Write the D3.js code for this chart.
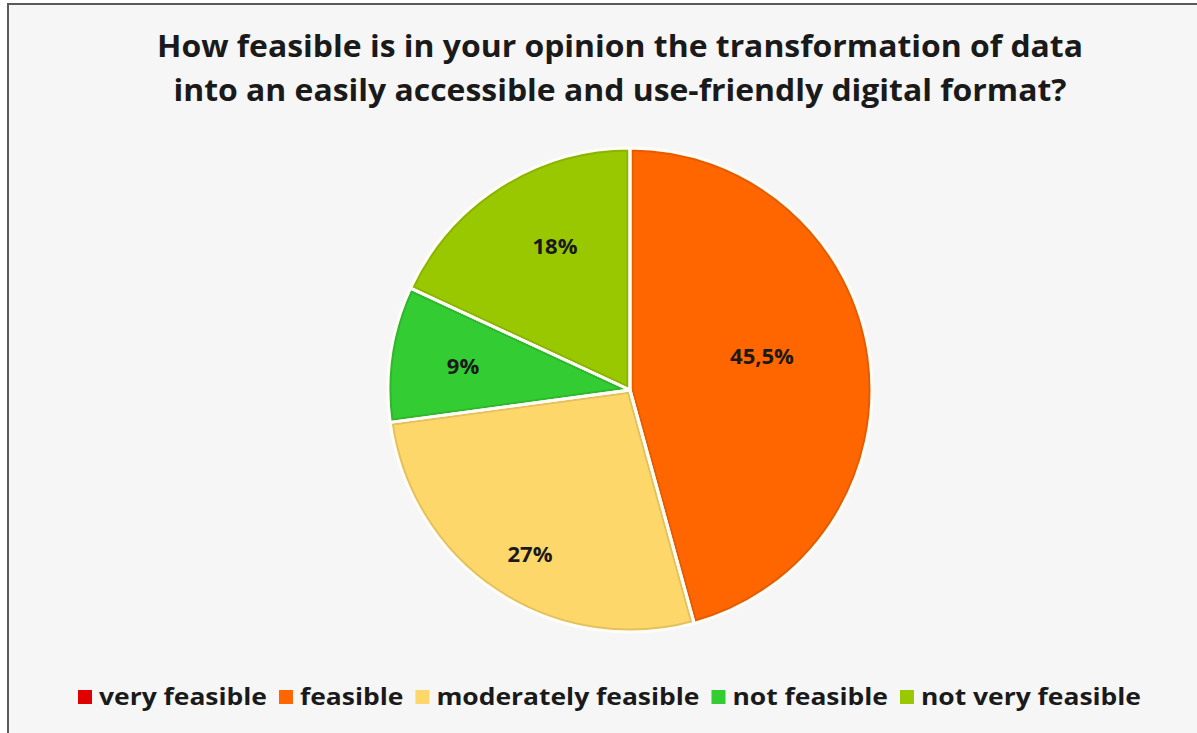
<!DOCTYPE html>
<html>
<head>
<meta charset="utf-8">
<script src="https://cdn.jsdelivr.net/npm/d3@7"></script>
<style>
  html, body { margin: 0; padding: 0; background: #ffffff; }
  svg { display: block; }
  text { font-family: "Open Sans", "Noto Sans", sans-serif; font-weight: 700; fill: #1a1a1a; }
</style>
</head>
<body>
<svg id="chart" width="1197" height="733"></svg>
<script>
// Survey answers and their shares (percent)
const categories = ["very feasible", "feasible", "moderately feasible", "not feasible", "not very feasible"];
const values = [0, 45.5, 27, 9, 18];
const valueLabels = ["0%", "45,5%", "27%", "9%", "18%"];
const colors = ["#e00000", "#ff6600", "#fdd769", "#33cc33", "#99c800"];
const titleLines = [
  "How feasible is in your opinion the transformation of data",
  "into an easily accessible and use-friendly digital format?"
];

const W = 1197, H = 733;
const svg = d3.select("#chart");

// Frame with light grey chart area
svg.append("rect")
  .attr("x", 8).attr("y", 4).attr("width", W + 10).attr("height", H + 10)
  .attr("fill", "#f6f6f6").attr("stroke", "#5a5a5a").attr("stroke-width", 2);

// Title
const titleWidths = [926, 893];
const titleBase = [57, 101];
titleLines.forEach((t, i) => {
  svg.append("text")
    .attr("x", 620).attr("y", titleBase[i])
    .attr("text-anchor", "middle")
    .attr("font-size", 30)
    .attr("textLength", titleWidths[i])
    .attr("lengthAdjust", "spacingAndGlyphs")
    .text(t);
});

// Pie
const cx = 630, cy = 390, r = 242;
const data = categories.map((c, i) => ({ name: c, value: values[i], label: valueLabels[i], color: colors[i] }));
const pie = d3.pie().sort(null).value(d => d.value);
const arcs = pie(data).filter(a => a.data.value > 0);
const arc = d3.arc().innerRadius(0).outerRadius(r);
const labelArc = d3.arc().innerRadius(r * 0.55).outerRadius(r * 0.55);

const g = svg.append("g").attr("transform", `translate(${cx},${cy})`);
const defs = svg.append("defs");

arcs.forEach((a, i) => {
  defs.append("clipPath").attr("id", "clip" + i)
    .append("path").attr("d", arc(a));
  // slice body
  g.append("path").attr("d", arc(a)).attr("fill", a.data.color);
  // darker inner rim on each slice
  g.append("path").attr("d", arc(a))
    .attr("fill", "none")
    .attr("stroke", d3.color(a.data.color).darker(0.3))
    .attr("stroke-width", 7)
    .attr("clip-path", `url(#clip${i})`);
});
// white separators
g.selectAll("path.sep").data(arcs).join("path")
  .attr("class", "sep")
  .attr("d", d => arc(d))
  .attr("fill", "none")
  .attr("stroke", "#fffdf5")
  .attr("stroke-width", 3)
  .attr("stroke-linejoin", "round");

// Value labels
const labelPos = {
  "feasible": [132, -35],
  "moderately feasible": [-100, 163],
  "not feasible": [-167, -25],
  "not very feasible": [-75, -145]
};
arcs.forEach(a => {
  const p = labelPos[a.data.name] || labelArc.centroid(a);
  g.append("text")
    .attr("x", p[0]).attr("y", p[1])
    .attr("text-anchor", "middle")
    .attr("dominant-baseline", "central")
    .attr("font-size", 22)
    .text(a.data.label);
});

// Legend, laid out from measured text widths
const legendY = 705, legendLeft = 78, legendRight = 1141;
const sq = 14, sqGap = 7, itemGap = 12;
const lg = svg.append("g");
const items = data.map(d => {
  const t = lg.append("text").attr("y", legendY).attr("font-size", 23.5).text(d.name);
  return { d, t, w: t.node().getComputedTextLength() };
});
const natural = d3.sum(items, it => sq + sqGap + it.w) + itemGap * (items.length - 1);
const scale = (legendRight - legendLeft - (sq + sqGap + itemGap) * items.length + itemGap) /
              (natural - (sq + sqGap + itemGap) * items.length + itemGap);
let x = legendLeft;
items.forEach(it => {
  lg.append("rect")
    .attr("x", x).attr("y", legendY - 15).attr("width", sq).attr("height", sq)
    .attr("fill", it.d.color);
  x += sq + sqGap;
  const w = it.w * scale;
  it.t.attr("x", x).attr("textLength", w).attr("lengthAdjust", "spacingAndGlyphs");
  x += w + itemGap;
});
</script>
</body>
</html>
